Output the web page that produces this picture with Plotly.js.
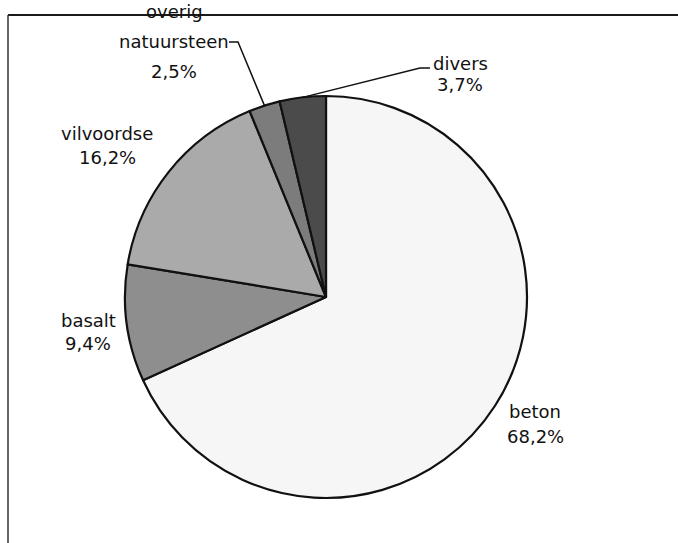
<!DOCTYPE html>
<html>
<head>
<meta charset="utf-8">
<script src="https://cdn.plot.ly/plotly-3.0.1.min.js"></script>
<style>
  html, body { margin: 0; padding: 0; background: #fff; }
  #chart { width: 678px; height: 543px; }
</style>
</head>
<body>
<div id="chart"></div>
<script>
// Material shares (percent), clockwise from 12 o'clock
const categories = ['beton', 'basalt', 'vilvoordse', 'overig natuursteen', 'divers'];
const nameLines = [['beton'], ['basalt'], ['vilvoordse'], ['overig', 'natuursteen'], ['divers']];
const shares = [68.2, 9.4, 16.2, 2.5, 3.7];
const sliceColors = ['#f6f6f6', '#8e8e8e', '#aaaaaa', '#7c7c7c', '#4b4b4b'];

const W = 678, H = 543;
// pie placement in pixels
const CX = 326, CY = 297, R = 201;

const px = x => x / W;
const py = y => 1 - y / H;

function fmt(v) { return v.toFixed(1).replace('.', ',') + '%'; }

// point on the rim at the middle of slice i (clockwise from top)
function rimPoint(i) {
  const total = shares.reduce((a, b) => a + b, 0);
  let before = 0;
  for (let k = 0; k < i; k++) before += shares[k];
  const mid = (before + shares[i] / 2) / total * 2 * Math.PI;
  return [CX + R * Math.sin(mid), CY - R * Math.cos(mid)];
}

// label placement: centre x, and y of each text line (pixels)
const labelPos = {
  'beton':              { x: 535, ys: [411, 436] },
  'basalt':             { x: 88,  ys: [320, 343] },
  'vilvoordse':         { x: 107, ys: [133, 157] },
  'overig natuursteen': { x: 174, ys: [12, 41, 71] },
  'divers':             { x: 460, ys: [63, 84] }
};

const font = { family: 'DejaVu Sans, Verdana, sans-serif', size: 18, color: '#111' };
const annotations = [];
categories.forEach((c, i) => {
  const lines = nameLines[i].concat([fmt(shares[i])]);
  const pos = labelPos[c];
  lines.forEach((t, k) => {
    annotations.push({
      xref: 'paper', yref: 'paper',
      x: px(pos.x), y: py(pos.ys[k]),
      xanchor: 'center', yanchor: 'middle',
      text: t, showarrow: false, font: font
    });
  });
});

// leader lines for the two thin slices
const iO = categories.indexOf('overig natuursteen');
const iD = categories.indexOf('divers');
const pO = rimPoint(iO), pD = rimPoint(iD);

function toPath(points) {
  return points.map((p, k) => (k ? 'L' : 'M') + px(p[0]).toFixed(5) + ',' + py(p[1]).toFixed(5)).join(' ');
}

const shapes = [
  // frame: top and left edges
  { type: 'line', xref: 'paper', yref: 'paper', x0: px(8), y0: py(15), x1: 1, y1: py(15),
    line: { color: '#1a1a1a', width: 2 }, layer: 'below' },
  { type: 'line', xref: 'paper', yref: 'paper', x0: px(8), y0: py(15), x1: px(8), y1: 0,
    line: { color: '#333', width: 1.5 }, layer: 'below' },
  { type: 'path', xref: 'paper', yref: 'paper',
    path: toPath([[229, 42], [238, 42], pO]),
    line: { color: '#111', width: 1.5 } },
  { type: 'path', xref: 'paper', yref: 'paper',
    path: toPath([[430, 68], [420, 68], pD]),
    line: { color: '#111', width: 1.5 } }
];

const trace = {
  type: 'pie',
  labels: categories,
  values: shares,
  sort: false,
  direction: 'clockwise',
  rotation: 0,
  textinfo: 'none',
  hoverinfo: 'skip',
  showlegend: false,
  marker: { colors: sliceColors, line: { color: '#111', width: 2.2 } },
  domain: { x: [px(CX - R), px(CX + R)], y: [py(CY + R), py(CY - R)] }
};

const layout = {
  width: W, height: H,
  margin: { l: 0, r: 0, t: 0, b: 0 },
  paper_bgcolor: '#fff',
  plot_bgcolor: '#fff',
  separators: ',.',
  annotations: annotations,
  shapes: shapes
};

Plotly.newPlot('chart', [trace], layout, { displayModeBar: false, staticPlot: true });
</script>
</body>
</html>
